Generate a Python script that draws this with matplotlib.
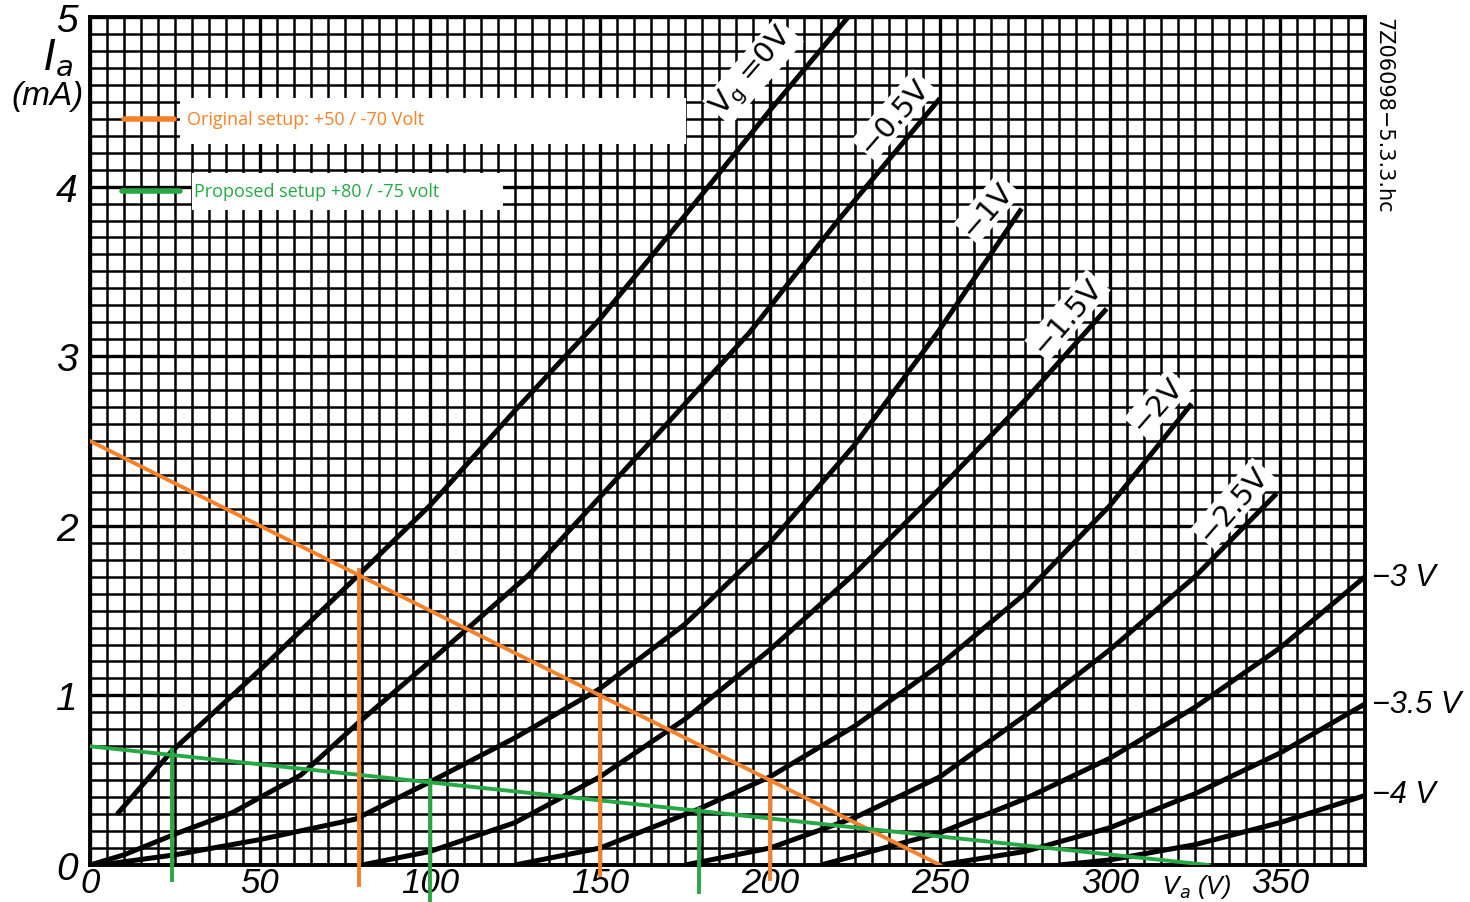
import numpy as np
import matplotlib
matplotlib.use("Agg")
import matplotlib.pyplot as plt

# anode characteristics (Va in V, Ia in mA)
vg0_v = [8, 24, 50, 79, 100, 125, 150, 175, 200, 223]
vg0_i = [0.30, 0.67, 1.15, 1.71, 2.12, 2.68, 3.22, 3.83, 4.45, 5.0]
vg05_v = [0, 10, 26, 42, 62, 79, 100, 129, 150, 171, 194, 220, 250]
vg05_i = [0, 0.06, 0.19, 0.31, 0.53, 0.84, 1.20, 1.71, 2.17, 2.63, 3.14, 3.80, 4.52]
vg1_v = [3, 25, 50, 78, 100, 125, 150, 175, 200, 225, 250, 274]
vg1_i = [0, 0.06, 0.15, 0.27, 0.49, 0.75, 1.04, 1.42, 1.90, 2.48, 3.16, 3.87]
vg15_v = [80, 100, 125, 150, 175, 200, 225, 250, 275, 299]
vg15_i = [0, 0.08, 0.25, 0.52, 0.86, 1.27, 1.72, 2.22, 2.74, 3.28]
vg2_v = [125, 150, 179, 200, 225, 250, 275, 300, 324]
vg2_i = [0, 0.10, 0.33, 0.52, 0.82, 1.18, 1.60, 2.12, 2.72]
vg25_v = [175, 200, 225, 250, 275, 300, 325, 349]
vg25_i = [0, 0.10, 0.28, 0.52, 0.88, 1.27, 1.70, 2.19]
vg3_v = [215, 250, 275, 300, 325, 350, 375]
vg3_i = [0, 0.19, 0.39, 0.63, 0.93, 1.28, 1.70]
vg35_v = [250, 275, 300, 325, 350, 375]
vg35_i = [0, 0.08, 0.22, 0.42, 0.66, 0.95]
vg4_v = [285, 300, 325, 350, 375]
vg4_i = [0, 0.03, 0.12, 0.25, 0.41]

curves = [(vg0_v, vg0_i), (vg05_v, vg05_i), (vg1_v, vg1_i), (vg15_v, vg15_i),
          (vg2_v, vg2_i), (vg25_v, vg25_i), (vg3_v, vg3_i), (vg35_v, vg35_i),
          (vg4_v, vg4_i)]

# load lines and operating points
orange_load_v = [0, 250]
orange_load_i = [2.5, 0]
orange_pts_v = [79, 150, 200]
orange_pts_top = [1.74, 1.0, 0.5]
orange_pts_bot = [-0.12, -0.06, -0.08]
green_load_v = [0, 329]
green_load_i = [0.70, 0]
green_pts_v = [24, 100, 179]
green_pts_top = [0.68, 0.50, 0.33]
green_pts_bot = [-0.09, -0.23, -0.16]

orange = "#f5822a"
green = "#27a844"
hand = "Liberation Sans"

fig = plt.figure(figsize=(14.7, 9.03), dpi=100)
ax = fig.add_axes([90/1470, 37/903, 1275/1470, 848/903])
ax.set_xlim(0, 375)
ax.set_ylim(0, 5)

ax.set_xticks(np.arange(0, 376, 50))
ax.set_xticks(np.arange(0, 376, 5), minor=True)
ax.set_yticks(np.arange(0, 5.1, 1))
ax.set_yticks(np.arange(0, 5.01, 0.1), minor=True)
ax.grid(which="minor", color="black", lw=1.8, zorder=0)
ax.grid(which="major", color="black", lw=2.4, zorder=0)
ax.set_axisbelow(True)
ax.tick_params(which="both", length=0)
ax.tick_params(axis="x", pad=1)
ax.tick_params(axis="y", pad=9)
for lbl in ax.get_xticklabels():
    lbl.set_style("italic")
    lbl.set_family(hand)
    lbl.set_fontsize(25)
for lbl in ax.get_yticklabels():
    lbl.set_style("italic")
    lbl.set_family(hand)
    lbl.set_fontsize(28)
for s in ax.spines.values():
    s.set_linewidth(2.8)

for v, i in curves:
    ax.plot(v, i, color="black", lw=3.6, solid_capstyle="butt",
            solid_joinstyle="round", zorder=3)

# curve labels (white patch hides the grid, not the curve)
lab_kw = dict(fontsize=21, ha="center", va="center", rotation=49,
              rotation_mode="anchor", zorder=2.5,
              bbox=dict(facecolor="white", edgecolor="none", pad=1.5))
ax.text(195, 4.68, r"$\mathregular{V_g}$ =0V", **lab_kw)
ax.text(236.5, 4.42, "−0.5V", **lab_kw)
ax.text(264, 3.87, "−1V", **lab_kw)
ax.text(287.5, 3.24, "−1.5V", **lab_kw)
ax.text(314, 2.72, "−2V", **lab_kw)
ax.text(336.3, 2.13, "−2.5V", **lab_kw)
for txt, yy in [("−3 V", 1.70), ("−3.5 V", 0.95), ("−4 V", 0.42)]:
    ax.text(377, yy, txt, fontsize=22, style="italic", family=hand,
            ha="left", va="center", clip_on=False)

# load lines
ax.plot(orange_load_v, orange_load_i, color=orange, lw=2.8, zorder=5)
ax.plot(green_load_v, green_load_i, color=green, lw=2.8, zorder=5)
for v, t, b in zip(orange_pts_v, orange_pts_top, orange_pts_bot):
    ax.plot([v, v], [t, b], color=orange, lw=2.8, zorder=5, clip_on=False)
for v, t, b in zip(green_pts_v, green_pts_top, green_pts_bot):
    ax.plot([v, v], [t, b], color=green, lw=2.8, zorder=5, clip_on=False)

# pasted-in legend
ax.add_patch(plt.Rectangle((26.5, 4.25), 148.8, 0.27, facecolor="white",
                           edgecolor="none", zorder=2))
ax.add_patch(plt.Rectangle((30.0, 3.86), 91.5, 0.22, facecolor="white",
                           edgecolor="none", zorder=2))
ax.plot([10, 24.7], [4.4, 4.4], color=orange, lw=4, solid_capstyle="round", zorder=5)
ax.plot([9.5, 26.5], [3.977, 3.977], color=green, lw=4, solid_capstyle="round", zorder=5)
ax.text(28.5, 4.4, "Original setup: +50 / -70 Volt", color=orange, fontsize=13,
        family="Open Sans", va="center", zorder=5)
ax.text(30.5, 3.977, "Proposed setup +80 / -75 volt", color=green, fontsize=13,
        family="Open Sans", va="center", zorder=5)

# axis captions
fig.text(58/1470, 1 - 58/903, r"$I_a$", fontsize=30, ha="center", va="center")
fig.text(48/1470, 1 - 97/903, "(mA)", fontsize=24, style="italic", family=hand,
         ha="center", va="center")
fig.text(1197/1470, 2/903, r"$V_a$ (V)", fontsize=18, style="italic", family=hand,
         ha="center", va="bottom")
fig.text(1383/1470, 1 - 18/903, "7Z06098−5.3.3.hc", fontsize=15, rotation=-90,
         ha="center", va="top")

fig.savefig("out.png", dpi=100)
